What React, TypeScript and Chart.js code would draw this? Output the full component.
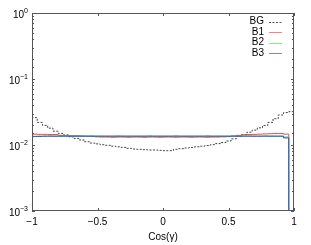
import React, { useEffect, useRef } from "react";
import { Chart, registerables } from "chart.js";

Chart.register(...registerables);

// Bin edges in cos(gamma)
const binEdges = [
  -1.0, -0.96, -0.92, -0.88, -0.84, -0.8, -0.76, -0.72, -0.68, -0.64,
  -0.6, -0.56, -0.52, -0.48, -0.44, -0.4, -0.36, -0.32, -0.28, -0.24,
  -0.2, -0.16, -0.12, -0.08, -0.04, 0.0, 0.04, 0.08, 0.12, 0.16,
  0.2, 0.24, 0.28, 0.32, 0.36, 0.4, 0.44, 0.48, 0.52, 0.56,
  0.6, 0.64, 0.68, 0.72, 0.76, 0.8, 0.84, 0.88, 0.92, 0.96, 0.98, 1.0,
];

const bgValues = [
  0.030, 0.026, 0.022, 0.0198, 0.018, 0.0162, 0.015, 0.0142, 0.0133, 0.0126,
  0.0119, 0.0112, 0.0107, 0.0104, 0.0101, 0.0099, 0.0096, 0.0094, 0.0092, 0.0089,
  0.0087, 0.0086, 0.0085, 0.0084, 0.0084, 0.0083, 0.0082, 0.0082, 0.0086, 0.0088,
  0.009, 0.0092, 0.0094, 0.0096, 0.0098, 0.0101, 0.0105, 0.0109, 0.0115, 0.0124,
  0.0135, 0.0144, 0.0156, 0.0168, 0.0182, 0.0198, 0.022, 0.025, 0.0285, 0.031,
  0.032,
];

const b1Values = [
  0.0146, 0.0146, 0.0145, 0.0145, 0.0144, 0.0144, 0.014, 0.0139, 0.0138, 0.0138,
  0.0137, 0.0136, 0.0135, 0.0133, 0.0132, 0.0132, 0.0131, 0.0132, 0.0132, 0.0131,
  0.0132, 0.0132, 0.0131, 0.0132, 0.0132, 0.0131, 0.0132, 0.0132, 0.0131, 0.0132,
  0.0132, 0.0131, 0.0132, 0.0132, 0.0131, 0.0132, 0.0132, 0.0133, 0.0134, 0.0137,
  0.014, 0.0143, 0.0144, 0.0145, 0.0146, 0.0147, 0.0148, 0.0149, 0.0149, 0.0146,
  0.00001,
];

const b2Values = [
  0.0133, 0.0135, 0.0136, 0.0136, 0.0137, 0.0136, 0.0136, 0.0137, 0.0136, 0.0136,
  0.0136, 0.0136, 0.0137, 0.0136, 0.0136, 0.0136, 0.0136, 0.0137, 0.0136, 0.0136,
  0.0136, 0.0136, 0.0136, 0.0137, 0.0136, 0.0136, 0.0136, 0.0136, 0.0137, 0.0136,
  0.0136, 0.0136, 0.0136, 0.0136, 0.0137, 0.0136, 0.0136, 0.0136, 0.0136, 0.0137,
  0.0136, 0.0137, 0.0137, 0.0136, 0.0136, 0.0137, 0.0136, 0.0136, 0.0136, 0.0132,
  0.00001,
];

const b3Values = [
  0.0129, 0.0135, 0.0135, 0.0136, 0.0136, 0.0136, 0.0136, 0.0136, 0.0136, 0.0136,
  0.0136, 0.0136, 0.0136, 0.0136, 0.0136, 0.0136, 0.0136, 0.0136, 0.0136, 0.0136,
  0.0136, 0.0136, 0.0136, 0.0136, 0.0136, 0.0136, 0.0136, 0.0136, 0.0136, 0.0136,
  0.0136, 0.0136, 0.0136, 0.0136, 0.0136, 0.0136, 0.0136, 0.0136, 0.0136, 0.0136,
  0.0136, 0.0136, 0.0136, 0.0136, 0.0136, 0.0136, 0.0136, 0.0136, 0.0136, 0.0128,
  0.00001,
];

const seriesLabels = ["BG", "B1", "B2", "B3"];
const seriesColors = ["#444444", "#ff4040", "#30dd30", "#3050e0"];
const legendColors = ["#555555", "#ff8080", "#80ee80", "#8080f0"];
const xTickValues = [-1, -0.5, 0, 0.5, 1];
const yMin = 0.001;
const yMax = 1;
const xTitle = "Cos(\u03b3)";

const FONT = "'Liberation Sans', Arial, Helvetica, sans-serif";

function toSteps(vals: number[]) {
  return binEdges.map((e, i) => ({ x: e, y: vals[Math.min(i, vals.length - 1)] }));
}

const framePlugin = {
  id: "frame",
  afterDraw(chart: any) {
    const ctx = chart.ctx;
    const { left, right, top, bottom } = chart.chartArea;
    const xs = chart.scales.x;
    const ys = chart.scales.y;
    ctx.save();
    ctx.strokeStyle = "#555555";
    ctx.lineWidth = 1;
    ctx.strokeRect(left + 0.5, top + 0.5, right - left - 1, bottom - top - 1);

    // x ticks (inward, top and bottom)
    ctx.beginPath();
    xs.ticks.forEach((t: any) => {
      const px = Math.round(xs.getPixelForValue(t.value)) + 0.5;
      ctx.moveTo(px, bottom);
      ctx.lineTo(px, bottom - 3);
      ctx.moveTo(px, top);
      ctx.lineTo(px, top + 3);
    });
    // y ticks (inward, left and right)
    ys.ticks.forEach((t: any) => {
      const lg = Math.log10(t.value);
      const major = Math.abs(lg - Math.round(lg)) < 1e-6;
      const len = major ? 3 : 2;
      const py = Math.round(ys.getPixelForValue(t.value)) + 0.5;
      ctx.moveTo(left, py);
      ctx.lineTo(left + len, py);
      ctx.moveTo(right, py);
      ctx.lineTo(right - len, py);
    });
    ctx.stroke();

    // y tick labels with superscript exponents
    ctx.fillStyle = "#000";
    ys.ticks.forEach((t: any) => {
      const lg = Math.log10(t.value);
      if (Math.abs(lg - Math.round(lg)) > 1e-6) return;
      const e = Math.round(lg);
      const py = ys.getPixelForValue(t.value);
      const expStr = e < 0 ? "\u2212" + String(-e) : String(e);
      ctx.font = `7px ${FONT}`;
      const ew = ctx.measureText(expStr).width;
      ctx.textAlign = "left";
      ctx.textBaseline = "middle";
      const xr = left - 4;
      ctx.fillText(expStr, xr - ew, py - 2);
      ctx.font = `10px ${FONT}`;
      ctx.textAlign = "right";
      ctx.fillText("10", xr - ew, py + 2);
    });

    // legend
    ctx.font = `10px ${FONT}`;
    ctx.textBaseline = "middle";
    chart.data.datasets.forEach((ds: any, i: number) => {
      const y = 21.5 + i * 10.5;
      ctx.fillStyle = "#000";
      ctx.textAlign = "right";
      ctx.fillText(ds.label, 264, y);
      ctx.beginPath();
      ctx.lineWidth = 1;
      ctx.strokeStyle = legendColors[i];
      ctx.setLineDash(i === 0 ? [2, 1.5] : []);
      ctx.moveTo(269, Math.round(y) + 0.5);
      ctx.lineTo(282, Math.round(y) + 0.5);
      ctx.stroke();
      ctx.setLineDash([]);
    });
    ctx.restore();
  },
};

export default function App() {
  const ref = useRef<HTMLCanvasElement>(null);
  useEffect(() => {
    document.body.style.margin = "0";
    const series = [bgValues, b1Values, b2Values, b3Values];
    const chart = new Chart(ref.current!, {
      type: "line",
      data: {
        datasets: series.map((vals, i) => ({
          label: seriesLabels[i],
          data: toSteps(vals),
          borderColor: seriesColors[i],
          borderWidth: 1,
          borderDash: i === 0 ? [2, 1.5] : [],
          pointRadius: 0,
          stepped: "after" as const,
          fill: false,
          order: 3 - i,
        })),
      },
      options: {
        responsive: false,
        animation: false,
        layout: { padding: { top: 13, right: 17, left: 0, bottom: 0 } },
        plugins: { legend: { display: false }, tooltip: { enabled: false } },
        scales: {
          x: {
            type: "linear",
            min: -1,
            max: 1,
            afterBuildTicks: (s: any) => {
              s.ticks = xTickValues.map((v) => ({ value: v }));
            },
            afterFit: (s: any) => {
              s.height = 34;
            },
            grid: { display: false, drawTicks: false },
            border: { display: false },
            ticks: {
              color: "#000",
              padding: 5,
              maxRotation: 0,
              font: { family: FONT, size: 10 },
              callback: (v: any) => (Number(v) < 0 ? "\u2212" + String(-Number(v)) : String(v)),
            },
            title: {
              display: true,
              text: xTitle,
              color: "#000",
              font: { family: FONT, size: 10 },
              padding: { top: 0, bottom: 2 },
            },
          },
          y: {
            type: "logarithmic",
            min: yMin,
            max: yMax,
            afterFit: (s: any) => {
              s.width = 32;
            },
            grid: { display: false, drawTicks: false },
            border: { display: false },
            ticks: { display: false },
          },
        },
      },
      plugins: [framePlugin],
    });
    return () => chart.destroy();
  }, []);
  return (
    <div style={{ width: 311, height: 245 }}>
      <canvas ref={ref} width={311} height={245} style={{ display: "block" }} />
    </div>
  );
}
